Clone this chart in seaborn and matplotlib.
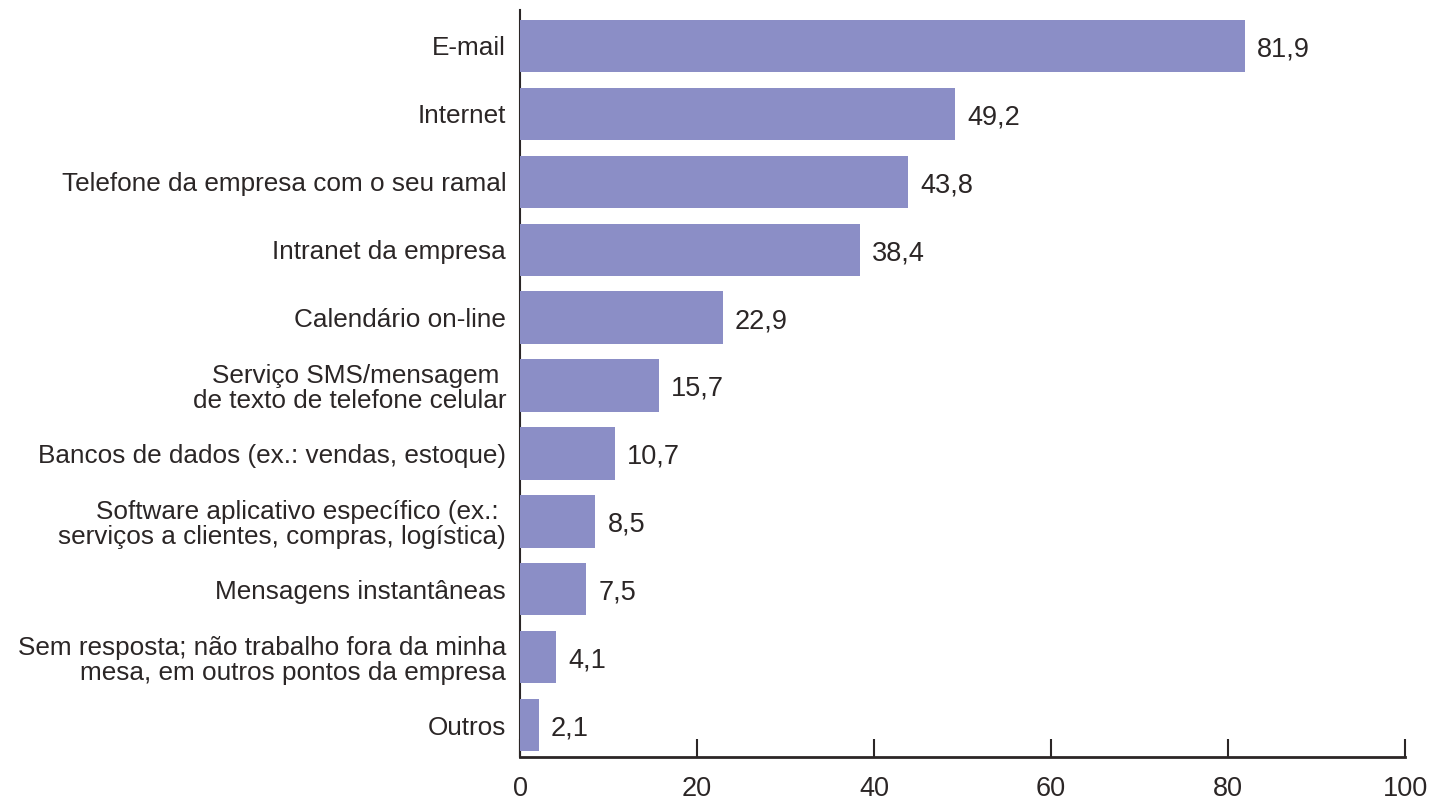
import pandas as pd
import matplotlib
matplotlib.use("Agg")
import matplotlib.pyplot as plt
import seaborn as sns


categorias = [
    "E-mail",
    "Internet",
    "Telefone da empresa com o seu ramal",
    "Intranet da empresa",
    "Calendário on-line",
    "Serviço SMS/mensagem \nde texto de telefone celular",
    "Bancos de dados (ex.: vendas, estoque)",
    "Software aplicativo específico (ex.: \nserviços a clientes, compras, logística)",
    "Mensagens instantâneas",
    "Sem resposta; não trabalho fora da minha\nmesa, em outros pontos da empresa",
    "Outros",
]
valores = [81.9, 49.2, 43.8, 38.4, 22.9, 15.7, 10.7, 8.5, 7.5, 4.1, 2.1]
xticks = [0, 20, 40, 60, 80, 100]

df = pd.DataFrame({"categoria": categorias, "valor": valores})

sns.set_style("white")
plt.rcParams["font.family"] = ["Liberation Sans", "DejaVu Sans"]

texto = "#2b2626"
fig = plt.figure(figsize=(14.33, 8.05), dpi=100)
ax = fig.add_axes([0.3629, 0.0596, 0.6176, 0.928])

sns.barplot(data=df, y="categoria", x="valor", orient="h",
            color="#8b8ec6", saturation=1, width=0.77, ax=ax, zorder=3,
            linewidth=0, edgecolor="none")

for i, v in enumerate(valores):
    ax.text(v + 1.4, i + 0.05, f"{v:.1f}".replace(".", ","),
            va="center", ha="left", fontsize=19.5, color=texto)

ax.set_xlim(0, 100)
ax.set_ylim(10.47, -0.53)
ax.set_xticks(xticks)
ax.set_xticklabels([str(t) for t in xticks], fontsize=19.5, color=texto)
ax.set_yticks(range(len(categorias)))
ax.set_yticklabels(categorias, fontsize=18.8, color=texto, linespacing=1.05)
ax.set_xlabel("")
ax.set_ylabel("")

ax.tick_params(axis="x", bottom=True, direction="in", length=13, width=1.5,
               color=texto, pad=14)
ax.tick_params(axis="y", left=False, length=0, pad=10)

ax.spines["top"].set_visible(False)
ax.spines["right"].set_visible(False)
ax.spines["left"].set_color(texto)
ax.spines["left"].set_linewidth(1.5)
ax.spines["left"].set_zorder(1)
ax.spines["bottom"].set_color(texto)
ax.spines["bottom"].set_linewidth(2)
ax.spines["bottom"].set_zorder(4)

fig.savefig("out.png", dpi=100)
